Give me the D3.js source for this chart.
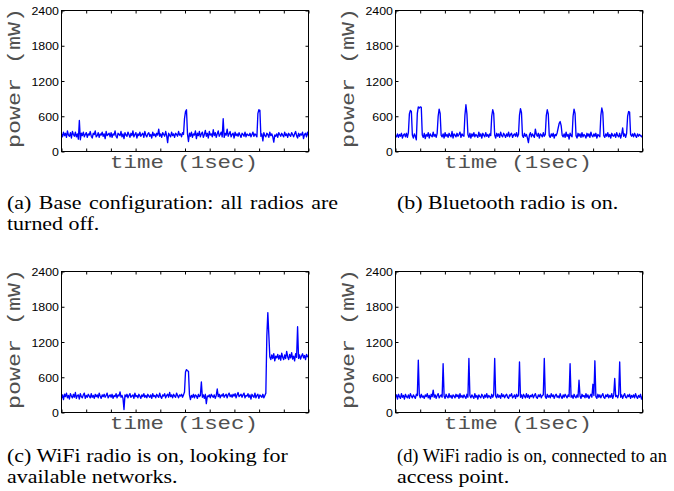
<!DOCTYPE html>
<html><head><meta charset="utf-8">
<script src="https://cdn.jsdelivr.net/npm/d3@7"></script>
<style>body{margin:0;background:#fff}svg{display:block}</style>
</head><body><div id="c"></div>
<script>
const yTicks = [0, 600, 1200, 1800, 2400];
const xTicks = [0,1,2,3,4,5,6,7,8,9,10];
const yLabel = "power (mW)";
const xLabel = "time (1sec)";
const captions = [
  ["(a) Base configuration: all radios are", "turned off."],
  ["(b) Bluetooth radio is on."],
  ["(c) WiFi radio is on, looking for", "available networks."],
  ["(d) WiFi radio is on, connected to an", "access point."]
];
const seriesA = [300,250,330,270,310,240,350,280,260,320,
230,340,290,260,330,250,300,210,527,200,
310,270,330,250,290,320,240,300,280,340,
260,230,310,290,350,250,270,320,240,300,
280,330,260,300,220,340,270,290,310,250,
320,240,300,280,350,260,230,310,290,270,
340,250,300,220,320,280,260,330,290,240,
310,270,350,250,290,320,230,300,270,330,
260,290,310,240,340,280,250,300,320,260,
290,230,330,270,300,250,310,280,380,260,
300,240,320,290,260,340,270,150,310,280,
250,330,270,300,240,310,290,260,340,280,
300,250,320,290,560,680,710,300,170,310,
260,330,240,300,280,350,220,310,270,340,
250,300,330,240,290,360,260,310,230,340,
280,300,250,370,270,320,240,300,350,260,
290,330,250,557,240,310,280,380,260,300,
340,250,290,310,230,330,270,300,260,320,
280,240,310,290,260,330,250,300,280,270,
310,250,290,330,260,300,280,250,650,710,
700,260,300,180,320,270,250,310,290,240,
330,270,300,250,160,280,260,300,240,320,
290,260,310,280,250,330,270,300,240,310,
280,260,320,290,250,300,340,270,230,310,
260,300,280,330,220,290,310,250,330,270];
const seriesB = [270,250,300,240,290,260,310,230,280,300,
250,310,240,320,640,700,680,280,230,300,
260,200,650,760,740,760,750,280,240,310,
220,290,260,320,230,300,270,250,330,260,
290,240,310,600,720,650,280,250,300,230,
320,260,290,240,310,270,250,340,230,300,
280,250,310,260,290,330,240,300,270,260,
620,795,640,290,240,310,230,300,260,320,
250,290,270,240,330,260,300,230,310,280,
250,320,260,290,240,300,270,600,710,650,
280,230,310,260,300,240,330,270,250,310,
280,240,300,260,330,250,290,310,240,280,
300,260,320,250,290,620,730,660,270,240,
310,260,290,230,150,280,320,250,300,270,
240,380,290,260,310,230,300,280,250,320,
260,290,610,710,640,270,240,300,260,310,
230,290,270,320,400,480,510,440,280,250,
300,240,330,260,290,210,310,270,250,600,
720,650,270,230,310,260,300,240,320,250,
290,270,230,310,260,300,240,330,270,250,
300,260,310,230,290,270,250,610,740,660,
270,240,300,260,320,250,290,230,310,270,
260,300,240,320,270,250,310,230,290,400,
260,300,240,310,600,680,670,290,260,300,
250,310,270,240,300,260,290,270,250,280];
const seriesC = [240,300,220,310,270,330,250,290,230,320,
280,250,310,260,340,240,290,300,230,320,
270,250,300,330,240,290,260,310,280,250,
320,260,290,240,310,270,300,250,330,280,
240,300,270,310,260,290,330,250,280,300,
260,310,240,290,270,320,250,300,280,350,
260,290,240,50,300,270,310,250,290,320,
260,280,300,240,330,270,290,250,310,280,
240,300,270,320,260,290,250,310,280,260,
300,240,320,270,290,250,310,280,260,330,
270,240,300,280,320,250,290,310,260,340,
270,300,250,310,280,260,330,290,250,300,
280,310,260,300,350,690,730,710,700,300,
220,290,260,310,250,300,280,240,310,270,
290,520,260,300,240,310,150,280,270,300,
250,310,280,260,300,240,290,400,270,310,
250,300,280,320,260,290,310,250,300,330,
270,300,260,310,280,320,250,300,340,270,
290,310,260,300,330,250,290,280,320,260,
300,230,310,280,260,330,250,290,310,240,
300,280,260,310,250,290,330,1300,1700,1330,
950,900,980,920,1000,880,960,930,990,910,
970,890,1010,940,900,980,920,1040,950,900,
990,930,1020,910,960,880,1000,940,1460,920,
980,910,960,1000,930,970,900,990,950,960];
const seriesD = [260,300,230,310,270,240,320,260,290,230,
310,270,250,300,240,320,280,250,300,270,
240,310,290,890,300,250,310,260,280,240,
300,270,320,250,290,230,310,270,380,260,
300,240,290,320,250,280,300,260,830,280,
240,310,270,250,320,260,290,240,300,280,
250,310,270,300,240,320,260,290,250,300,
270,240,310,260,920,290,250,300,270,240,
320,260,290,230,300,270,250,310,280,240,
300,260,320,250,290,270,240,310,260,300,
920,280,250,310,260,290,240,320,270,300,
250,290,310,260,240,300,280,320,250,270,
300,240,310,270,290,860,260,300,240,310,
280,250,320,260,300,240,290,270,310,250,
290,320,260,240,300,270,310,250,290,300,
920,270,240,310,260,290,250,320,270,300,
240,290,310,260,280,250,320,270,240,300,
260,310,280,250,300,270,830,260,290,240,
310,270,250,300,260,550,280,240,310,270,
290,250,320,260,300,240,280,310,260,480,
290,880,270,240,310,260,300,250,290,320,
260,240,300,270,310,250,290,260,320,240,
300,580,270,290,250,310,860,260,300,240,
290,320,260,250,300,270,310,240,290,260,
300,250,320,270,240,290,260,310,230,270];
const allSeries = [seriesA, seriesB, seriesC, seriesD];

const W = 674, H = 491;
const svg = d3.select("#c").append("svg").attr("width", W).attr("height", H);
const pw = 247, ph = 141;
const origins = [[61.5, 10.5], [395.5, 10.5], [61.5, 271.5], [395.5, 271.5]];
const capX = [7, 397, 7, 397];
const capY = [209, 209, 462, 462];
const tickFont = "'Liberation Sans', Arial, sans-serif";
const monoFont = "'Liberation Mono', 'Courier New', monospace";
const serifFont = "'Liberation Serif', 'Times New Roman', serif";
const capScale = 1.22;

allSeries.forEach((vals, k) => {
  const [ox, oy] = origins[k];
  const g = svg.append("g").attr("transform", `translate(${ox},${oy})`);
  const x = d3.scaleLinear().domain([0, 10]).range([0, pw]);
  const y = d3.scaleLinear().domain([0, 2400]).range([ph, 0]);
  const n = vals.length;
  const clipId = "clip" + k;
  g.append("clipPath").attr("id", clipId).append("rect").attr("x", 0).attr("y", 0).attr("width", pw).attr("height", ph);
  const line = d3.line().x((d, i) => x(i * 10 / (n - 1))).y(d => y(d));
  g.append("path").datum(vals).attr("d", line).attr("fill", "none")
    .attr("stroke", "#0000ff").attr("stroke-width", 1.35).attr("stroke-linejoin", "round")
    .attr("clip-path", `url(#${clipId})`);

  const styleAxis = sel => {
    sel.select(".domain").remove();
    sel.selectAll(".tick line").attr("stroke", "#000");
  };
  const left = g.append("g").call(d3.axisLeft(y).tickValues(yTicks).tickSize(-3).tickPadding(0).tickFormat(d3.format("d"))).call(styleAxis);
  left.selectAll(".tick text").attr("x", null).attr("dy", null)
    .attr("dominant-baseline", "central")
    .attr("transform", "translate(-2.5,0.5) scale(1.24,1)")
    .attr("fill", "#000").style("font-family", tickFont).style("font-size", "10px");
  g.append("g").attr("transform", `translate(${pw},0)`).call(d3.axisRight(y).tickValues(yTicks).tickSize(-3).tickFormat("")).call(styleAxis);
  g.append("g").attr("transform", `translate(0,${ph})`).call(d3.axisBottom(x).tickValues(xTicks).tickSize(-3).tickFormat("")).call(styleAxis);
  g.append("g").call(d3.axisTop(x).tickValues(xTicks).tickSize(-3).tickFormat("")).call(styleAxis);
  g.append("rect").attr("x", 0).attr("y", 0).attr("width", pw).attr("height", ph)
    .attr("fill", "none").attr("stroke", "#000").attr("stroke-width", 1);

  g.append("text").text(xLabel)
    .attr("transform", `translate(${pw / 2 - 1},${ph + 16.5}) scale(1.18,1)`)
    .attr("text-anchor", "middle").attr("fill", "#505050")
    .style("font-family", monoFont).style("font-size", "19px");
  g.append("text").text(yLabel)
    .attr("transform", `translate(-41.5,${ph / 2 - 3}) rotate(-90) scale(1.23,1)`)
    .attr("text-anchor", "middle").attr("fill", "#505050")
    .style("font-family", monoFont).style("font-size", "19px");

  const lines = captions[k];
  lines.forEach((t, j) => {
    const txt = svg.append("text").text(t)
      .attr("transform", `translate(${capX[k]},${capY[k] + j * 21}) scale(${capScale},1)`)
      .attr("fill", "#000").style("font-family", serifFont).style("font-size", "18px");
    if (k === 0 && j === 0) {
      const target = 331 / capScale;
      const natural = txt.node().getComputedTextLength();
      const spaces = (t.match(/ /g) || []).length;
      txt.attr("word-spacing", (target - natural) / spaces);
    }
    if (k === 3 && j === 0) {
      const natural = txt.node().getComputedTextLength();
      const sx = 270 / natural;
      txt.attr("transform", `translate(${capX[k]},${capY[k] + j * 21}) scale(${sx},1)`);
    }
  });
});
</script></body></html>
